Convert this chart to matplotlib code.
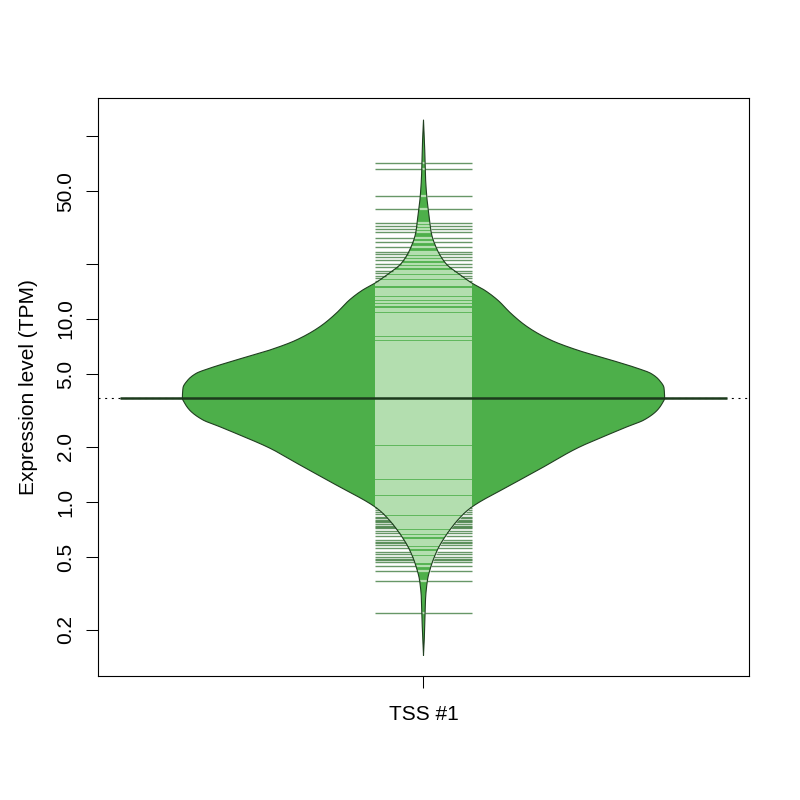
import numpy as np
import matplotlib
matplotlib.use("Agg")
import matplotlib.pyplot as plt
from matplotlib.collections import LineCollection

plt.rcParams['font.family'] = ['Liberation Sans', 'DejaVu Sans']

# bean outline: expression level (TPM) and half width (x units)
bean_tpm = [0.146, 0.192, 0.235, 0.291, 0.375, 0.441, 0.547, 0.677, 0.871, 0.943,
            1.24, 1.56, 1.97, 2.37, 2.58, 2.81, 3.18, 3.46, 3.70,
            4.20, 4.64, 5.05, 5.38, 5.97, 6.77, 7.68, 9.08, 10.74, 12.70, 14.40,
            15.67, 17.2, 18.5, 19.5, 20.5, 23.8, 29.5, 36.1, 46.4, 59.7, 91.6, 122.3]
bean_halfwidth = [0.0, 0.0017, 0.0025, 0.0033, 0.0066, 0.012, 0.023, 0.040, 0.068, 0.081,
                  0.145, 0.200, 0.255, 0.311, 0.338, 0.366, 0.388, 0.396, 0.400,
                  0.399, 0.391, 0.377, 0.355, 0.311, 0.255, 0.211, 0.172, 0.145, 0.123, 0.101,
                  0.081, 0.063, 0.050, 0.041, 0.035, 0.023, 0.013, 0.0095, 0.0055, 0.0033, 0.0017, 0.0]

# individual observations (bean lines)
obs_high = [71.5, 66.0, 47.2, 39.7, 33.5, 32.2, 31.0, 29.9, 27.8, 26.4, 24.8, 23.3,
            22.6, 21.9, 21.0, 20.0, 19.3, 18.4, 17.8, 17.2, 16.7]
obs_mid = [16.1, 15.7, 15.3, 14.6, 14.3, 13.8, 13.5, 13.1, 12.8, 12.4, 11.9, 11.4,
           11.0, 10.7, 10.5, 10.2, 9.95, 9.70, 9.46, 9.22, 8.99, 8.77, 8.55, 8.34,
           8.13, 7.92, 7.73, 7.53, 7.34, 7.16, 6.98, 6.81, 6.64, 6.47, 6.31, 6.15,
           6.00, 5.85, 5.70, 5.56, 5.42, 5.28, 5.15, 5.02, 4.90, 4.78, 4.66, 4.54,
           4.43, 4.32, 4.21, 4.10, 4.00, 3.90, 3.80, 3.71, 3.62, 3.53, 3.44, 3.35,
           3.27, 3.19, 3.11, 3.03, 2.95, 2.88, 2.81, 2.74, 2.67, 2.60, 2.54, 2.47,
           2.41, 2.35, 2.29, 2.24, 2.19, 2.13, 2.07, 2.01, 1.96, 1.92, 1.87, 1.82,
           1.78, 1.74, 1.69, 1.65, 1.61, 1.57, 1.53, 1.49, 1.45, 1.42, 1.38, 1.35,
           1.31, 1.28, 1.25, 1.22, 1.19, 1.16, 1.13, 1.11, 1.07, 1.04, 1.01, 0.99,
           0.975, 0.950, 0.925, 0.905]
obs_low = [0.885, 0.860, 0.831, 0.818, 0.802, 0.787, 0.773, 0.758, 0.744, 0.730,
           0.718, 0.697, 0.675, 0.652, 0.620, 0.608, 0.597, 0.582, 0.560, 0.535, 0.520,
           0.500, 0.491, 0.482, 0.472, 0.449, 0.421, 0.372, 0.248]
bean_mean = 3.70

y_ticks = [0.2, 0.5, 1, 2, 5, 10, 20, 50, 100]
y_tick_labels = ["0.2", "0.5", "1.0", "2.0", "5.0", "10.0", "", "50.0", ""]
group_label = "TSS #1"

fill_col = "#4DAF4A"
border_col = "#203f20"
inner_col = "#b3deaf"
outer_col = (0.12, 0.40, 0.12, 0.68)


def pchip(x, y, xn):
    # monotone cubic interpolation (Fritsch-Carlson)
    x = np.asarray(x, float)
    y = np.asarray(y, float)
    h = np.diff(x)
    d = np.diff(y) / h
    m = np.zeros_like(y)
    m[0], m[-1] = d[0], d[-1]
    for k in range(1, len(x) - 1):
        if d[k - 1] * d[k] > 0:
            w1 = 2 * h[k] + h[k - 1]
            w2 = h[k] + 2 * h[k - 1]
            m[k] = (w1 + w2) / (w1 / d[k - 1] + w2 / d[k])
    idx = np.clip(np.searchsorted(x, xn) - 1, 0, len(x) - 2)
    t = (xn - x[idx]) / h[idx]
    h00 = 2 * t**3 - 3 * t**2 + 1
    h10 = t**3 - 2 * t**2 + t
    h01 = -2 * t**3 + 3 * t**2
    h11 = t**3 - t**2
    return h00 * y[idx] + h10 * h[idx] * m[idx] + h01 * y[idx + 1] + h11 * h[idx] * m[idx + 1]


fig = plt.figure(figsize=(8, 8), dpi=100)
ax = fig.add_axes([0.1225, 0.155, 0.81375, 0.7225])
ax.set_yscale('log')
ax.set_xlim(0.46, 1.54)
ax.set_ylim(0.112, 161.4)

# overall mean, dotted across the plot
ax.axhline(bean_mean, color='black', linestyle=(0, (1.8, 4.2)), linewidth=0.8, zorder=1)

# the bean: smooth outline in log space
log_t = np.log10(bean_tpm)
grid = np.linspace(log_t[0], log_t[-1], 1200)
hw = np.clip(pchip(log_t, bean_halfwidth, grid), 0, None)
yy = 10 ** grid
xs = np.concatenate([1 - hw, (1 + hw)[::-1]])
ys = np.concatenate([yy, yy[::-1]])
ax.fill(xs, ys, color=fill_col, linewidth=0, zorder=2)

# bean lines: light inside the bean, dark outside
line_len = 0.081
inner, outer = [], []
for v in obs_high + obs_mid + obs_low:
    w = float(np.interp(np.log10(v), grid, hw))
    w = min(w, line_len)
    inner.append([(1 - w, v), (1 + w, v)])
    if w < line_len:
        outer.append([(1 - line_len, v), (1 - w, v)])
        outer.append([(1 + w, v), (1 + line_len, v)])
ax.add_collection(LineCollection(inner, colors=inner_col, linewidths=1.6, zorder=3))
ax.add_collection(LineCollection(outer, colors=[outer_col], linewidths=1.0, zorder=3))

ax.plot(xs, ys, color=border_col, linewidth=0.8, zorder=4)

# bean mean line
ax.plot([1 - 0.503, 1 + 0.503], [bean_mean, bean_mean], color='#1c3a1c',
        linewidth=1.8, solid_capstyle='butt', zorder=5)

ax.set_yticks(y_ticks)
ax.set_yticklabels(y_tick_labels)
ax.yaxis.set_minor_locator(matplotlib.ticker.NullLocator())
ax.set_xticks([1])
ax.set_xticklabels([group_label])
ax.tick_params(axis='both', length=8.6, width=0.75, labelsize=15, color='black')
ax.tick_params(axis='y', pad=8)
ax.tick_params(axis='x', pad=12)
plt.setp(ax.get_yticklabels(), rotation=90, va='center')

ax.set_ylabel("Expression level (TPM)", fontsize=15)
ax.yaxis.set_label_coords(-0.092, 0.5)

for s in ax.spines.values():
    s.set_linewidth(0.8)

fig.savefig("out.png", dpi=100)
